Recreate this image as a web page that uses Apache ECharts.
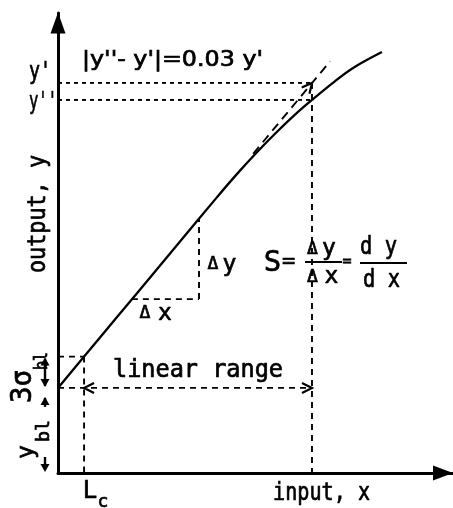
<!DOCTYPE html>
<html>
<head>
<meta charset="utf-8">
<script src="https://cdn.jsdelivr.net/npm/echarts@6/dist/echarts.min.js"></script>
<style>
  html, body { margin: 0; padding: 0; background: #fff; }
  #chart { width: 453px; height: 508px; }
</style>
</head>
<body>
<div id="chart"></div>
<script>
// Response curve: input x against output y (arbitrary units, 0-100 on both axes)
const inputX  = [0, 10, 20, 30, 40, 45, 50, 55, 60, 64.3, 70, 75, 82];
const outputY = [18.5, 28.8, 39.1, 49.4, 59.7, 64.7, 69.4, 73.8, 77.9, 81.1, 85.1, 88.2, 91.5];

// Characteristic levels
const blankLevel   = 18.5;  // y_bl
const limitLevel   = 25.3;  // y_bl + 3 sigma_bl
const limitInput   = 6.6;   // L_c
const upperInput   = 64.3;  // upper end of the linear range
const yPrime       = 84.8;  // y'  (linear extrapolation)
const yDoublePrime = 81.1;  // y'' (actual response)

// Tangent extension of the linear part
const tangentX = [49.4, 68.9];
const tangentY = [69.4, 89.5];

// Slope triangle (delta x, delta y)
const stepX = [18.7, 35.7];
const stepY = [37.8, 55.3];

// Dashed construction lines: [x1, y1, x2, y2, dash kind]
const guides = [
  [0, yPrime, upperInput, yPrime, 'fine'],
  [0, yDoublePrime, upperInput, yDoublePrime, 'fine'],
  [upperInput, yPrime, upperInput, 0, 'med'],
  [0, limitLevel, limitInput, limitLevel, 'med'],
  [limitInput, limitLevel, limitInput, 0, 'med'],
  [0, blankLevel, upperInput, blankLevel, 'med'],
  [stepX[0], stepY[0], stepX[1], stepY[0], 'med'],
  [stepX[1], stepY[0], stepX[1], stepY[1], 'med'],
  [tangentX[0], tangentY[0], tangentX[1], tangentY[1], 'long']
];

// Open arrowheads: [tip x, tip y, from x, from y]
const heads = [
  [limitInput, blankLevel, upperInput, blankLevel],
  [upperInput, blankLevel, limitInput, blankLevel],
  [upperInput, yPrime, tangentX[0], tangentY[0]]
];

const DASH = { fine: [4, 4], med: [6, 5], long: [9, 6] };
const MONO = '"DejaVu Sans Mono", monospace';
const SANS = '"DejaVu Sans", sans-serif';
const meas = document.createElement('canvas').getContext('2d');

function label(str, cx, cy, size, width, rotation, family) {
  const font = size + 'px ' + (family || MONO);
  meas.font = font;
  const w = meas.measureText(str).width;
  return {
    type: 'text', x: cx, y: cy, rotation: rotation || 0,
    scaleX: width ? width / w : 1,
    style: {
      text: str, font: font, fill: '#000',
      stroke: '#000', lineWidth: 0.7,
      align: 'center', verticalAlign: 'middle'
    }
  };
}
function bar(x1, x2, y) {
  return { type: 'line', shape: { x1: x1, y1: y, x2: x2, y2: y }, style: { stroke: '#000', lineWidth: 1.8 } };
}
const UP = Math.PI / 2;

const chart = echarts.init(document.getElementById('chart'), null, { renderer: 'canvas' });

chart.setOption({
  animation: false,
  backgroundColor: '#fff',
  grid: { left: 58, right: 0, top: 13, bottom: 35, containLabel: false, outerBoundsMode: 'none' },
  xAxis: {
    type: 'value', min: 0, max: 100,
    axisLine: { show: true, lineStyle: { color: '#000', width: 3 },
      symbol: ['none', 'triangle'], symbolSize: [15, 20], symbolOffset: [0, -10] },
    axisTick: { show: false }, axisLabel: { show: false }, splitLine: { show: false }
  },
  yAxis: {
    type: 'value', min: 0, max: 100,
    axisLine: { show: true, lineStyle: { color: '#000', width: 3 },
      symbol: ['none', 'triangle'], symbolSize: [15, 21], symbolOffset: [0, -10] },
    axisTick: { show: false }, axisLabel: { show: false }, splitLine: { show: false }
  },
  series: [
    {
      type: 'line',
      data: inputX.map((x, i) => [x, outputY[i]]),
      smooth: 0.35,
      showSymbol: false,
      lineStyle: { color: '#000', width: 2.3 },
      z: 3
    },
    {
      type: 'custom',
      coordinateSystem: 'cartesian2d',
      data: guides.map(g => g.slice(0, 4)),
      renderItem(params, api) {
        const g = guides[params.dataIndex];
        const p1 = api.coord([g[0], g[1]]);
        const p2 = api.coord([g[2], g[3]]);
        return {
          type: 'line',
          shape: { x1: p1[0], y1: p1[1], x2: p2[0], y2: p2[1] },
          style: { stroke: '#000', lineWidth: 1.9, lineDash: DASH[g[4]], fill: null }
        };
      },
      z: 2
    },
    {
      type: 'custom',
      coordinateSystem: 'cartesian2d',
      data: heads,
      renderItem(params, api) {
        const h = heads[params.dataIndex];
        const tip = api.coord([h[0], h[1]]);
        const from = api.coord([h[2], h[3]]);
        let dx = tip[0] - from[0], dy = tip[1] - from[1];
        const len = Math.hypot(dx, dy); dx /= len; dy /= len;
        const L = 10, W = 5;
        return {
          type: 'polyline',
          shape: { points: [
            [tip[0] - L * dx - W * dy, tip[1] - L * dy + W * dx],
            tip,
            [tip[0] - L * dx + W * dy, tip[1] - L * dy - W * dx]
          ] },
          style: { stroke: '#000', lineWidth: 2.2, fill: null }
        };
      },
      z: 4
    },
    {
      // dimension arrows for y_bl and 3 sigma_bl beside the output axis
      type: 'custom',
      coordinateSystem: 'cartesian2d',
      data: [[0, blankLevel, limitLevel]],
      renderItem(params, api) {
        const x = api.coord([0, 0])[0] - 13;
        const y0 = api.coord([0, 0])[1];
        const yb = api.coord([0, api.value(1)])[1];
        const yl = api.coord([0, api.value(2)])[1];
        const head = (tip, dir) => ({
          type: 'polygon',
          shape: { points: [[x, tip], [x - 4.5, tip + dir * 8], [x + 4.5, tip + dir * 8]] },
          style: { fill: '#000' }
        });
        const stem = (a, b) => ({
          type: 'line', shape: { x1: x, y1: a, x2: x, y2: b },
          style: { stroke: '#000', lineWidth: 2.4 }
        });
        return {
          type: 'group',
          children: [
            stem(yl + 2, yb - 2), head(yl + 1, 1), head(yb - 1, -1),
            stem(yb + 10, yb + 19), head(yb + 9, 1),
            stem(y0 - 16, y0 - 4), head(y0 - 1, -1)
          ]
        };
      },
      z: 4
    }
  ],
  graphic: [
    label("y'", 40, 72, 25, 22),
    label("y''", 43, 102, 25, 28),
    label("|y''- y'|=0.03 y'", 172.5, 61, 21, 181, 0, SANS),
    label('output, y', 38.5, 214, 24, 118, UP),
    label('linear range', 198, 371, 24, 170),
    label('input, x', 321.5, 493.5, 24, 97),
    label('L', 90, 492, 24),
    label('c', 103, 502, 18),
    label('S', 272.5, 263, 29),
    label('=', 288.5, 262, 22),
    label('\u0394', 312.5, 249, 18), label('y', 329, 249, 23),
    bar(305, 342, 262),
    label('\u0394', 312.5, 277, 18), label('x', 331.5, 277, 23),
    label('=', 347, 262, 15),
    label('d y', 378.5, 247, 25, 37),
    bar(360, 407, 263),
    label('d x', 381.5, 280, 25, 37),
    label('\u0394', 213, 264, 18), label('y', 229.5, 265, 23),
    label('\u0394', 145, 313, 18), label('x', 165, 314, 23),
    label('3\u03c3', 24, 386.5, 28, 33, UP),
    label('bl', 43, 361, 17, 18, UP),
    label('y', 27, 452, 23, null, UP),
    label('bl', 44.5, 431, 18, 22, UP)
  ]
});
</script>
</body>
</html>
